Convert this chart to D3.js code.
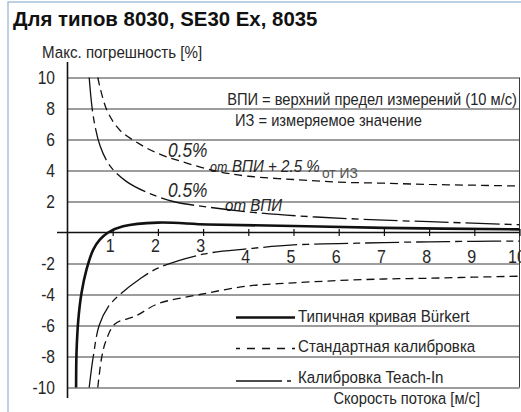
<!DOCTYPE html>
<html><head><meta charset="utf-8">
<script src="https://cdn.jsdelivr.net/npm/d3@7"></script>
<style>html,body{margin:0;padding:0;background:#fff;overflow:hidden;} svg{display:block;}</style>
</head><body><svg id="c" width="521" height="412"></svg>
<script>
// ---- data ----
const title = "Для типов 8030, SE30 Ex, 8035";
const yTitle = "Макс. погрешность [%]";
const xTitle = "Скорость потока [м/с]";
const xTicks = [1, 2, 3, 4, 5, 6, 7, 8, 9, 10];
const yTicks = [10, 8, 6, 4, 2, -2, -4, -6, -8, -10];
const noteLines = ["ВПИ = верхний предел измерений (10 м/с)", "ИЗ = измеряемое значение"];
const legendNames = ["Типичная кривая Bürkert", "Стандартная калибровка", "Калибровка Teach-In"];

// typical Bürkert curve
const typicalV = [0.19, 0.2, 0.24, 0.31, 0.42, 0.57, 0.72, 0.9, 1.23, 2, 3.1, 5, 7, 10];
const typicalE = [-10, -7.7, -5.6, -3.9, -2.4, -1.1, -0.45, 0, 0.4, 0.64, 0.52, 0.42, 0.3, 0.2];
// standard calibration (upper / lower)
const stdUpV = [0.67, 0.87, 1.16, 1.6, 2, 2.5, 3.3, 4, 5, 6, 7, 8, 9, 10];
const stdUpE = [10, 7.9, 6.6, 5.7, 5.1, 4.6, 3.95, 3.63, 3.42, 3.25, 3.18, 3.1, 3.05, 3.0];
const stdLoV = [0.67, 0.76, 0.85, 1.05, 1.5, 2, 2.93, 4, 5, 6, 7, 8, 9, 10];
const stdLoE = [-10, -8, -7, -5.9, -5.4, -4.6, -4, -3.45, -3.25, -3.1, -3.0, -2.95, -2.88, -2.82];
// teach-in calibration (upper / lower)
const tiUpV = [0.48, 0.57, 0.72, 0.94, 1.3, 1.75, 2.34, 3.08, 4.2, 5.5, 7, 8.5, 10];
const tiUpE = [10, 7.5, 5.6, 4.3, 3.3, 2.6, 2.0, 1.65, 1.27, 1.0, 0.8, 0.65, 0.5];
const tiLoV = [0.48, 0.57, 0.7, 0.9, 1.16, 1.6, 2, 3, 4, 5, 6, 7, 8, 9, 10];
const tiLoE = [-10, -8, -6, -4.8, -4, -3, -2.3, -1.4, -1.05, -0.8, -0.72, -0.65, -0.6, -0.57, -0.55];

// ---- drawing ----
const FONT = "'Liberation Sans',Arial,sans-serif";
const TXT = "#262626";
const svg = d3.select("#c");

// frame
svg.append("rect").attr("x", 8).attr("y", 2).attr("width", 520).attr("height", 420)
  .attr("fill", "#fff").attr("stroke", "#a9c2dc").attr("stroke-width", 1.5);

// horizontal condensing factor, measured so the note line fills its width
const probe = svg.append("text").attr("font-family", FONT).attr("font-size", 16.5).text(noteLines[0]);
let SX = 290 / probe.node().getComputedTextLength();
SX = Math.max(0.72, Math.min(1, SX));
probe.remove();

function ntext(parent, px, py, s, size, o = {}) {
  return parent.append("text")
    .attr("transform", `translate(${px},${py}) scale(${SX},1)`)
    .attr("text-anchor", o.anchor || "start")
    .attr("font-family", FONT).attr("font-size", size)
    .attr("font-style", o.italic ? "italic" : "normal")
    .attr("fill", o.fill || TXT).text(s);
}

const x = d3.scaleLinear().domain([0, 10]).range([67.5, 519.5]);
const y = d3.scaleLinear().domain([-10, 10]).range([387.5, 77.5]);

svg.append("text").attr("x", 13).attr("y", 26).text(title)
  .attr("font-family", FONT).attr("font-weight", "bold")
  .attr("font-size", 20.4).attr("fill", "#111");

ntext(svg, 42, 57.5, yTitle, 17);

// gridlines
const grid = svg.append("g").attr("transform", `translate(${x(0)},0)`)
  .call(d3.axisRight(y).tickValues(yTicks).tickSize(x(10) - x(0)).tickFormat(""));
grid.select(".domain").remove();
grid.selectAll(".tick line").attr("stroke", "#3a3a3a").attr("stroke-width", 1);

// right border
svg.append("line").attr("x1", x(10)).attr("x2", x(10)).attr("y1", y(10)).attr("y2", y(-10))
  .attr("stroke", "#3a3a3a").attr("stroke-width", 1);

// y labels
yTicks.forEach(t => ntext(svg, 55, y(t) + 6, String(t), 17.5, { anchor: "end" }));

// y axis line
svg.append("line").attr("x1", x(0)).attr("x2", x(0)).attr("y1", 62).attr("y2", 398)
  .attr("stroke", "#111").attr("stroke-width", 1.6);
// zero line
svg.append("line").attr("x1", 57).attr("x2", x(10)).attr("y1", y(0)).attr("y2", y(0))
  .attr("stroke", "#111").attr("stroke-width", 1.6);

// x ticks crossing the axis
const xa = svg.append("g").attr("transform", `translate(0,${y(0) - 3.5})`)
  .call(d3.axisBottom(x).tickValues(xTicks).tickSize(7).tickFormat(""));
xa.select(".domain").remove();
xa.selectAll(".tick line").attr("stroke", "#111").attr("stroke-width", 1.2);
// x labels
xTicks.forEach(t => ntext(svg, x(t) - 2.5, t <= 3 ? 252 : 263, String(t), 18, { anchor: "middle" }));

ntext(svg, 480, 404, xTitle, 16.5, { anchor: "end" });

// notes
ntext(svg, 517, 105, noteLines[0], 16.5, { anchor: "end" });
ntext(svg, 235, 126, noteLines[1], 16.5);

// annotations
ntext(svg, 168, 157, "0.5%", 19.5, { italic: true });
ntext(svg, 210, 172, "от", 14, { italic: true });
ntext(svg, 232, 172, "ВПИ + 2.5 %", 17, { italic: true });
ntext(svg, 322, 178, "от ИЗ", 15.5, { fill: "#555" });
ntext(svg, 168, 197, "0.5%", 19.5, { italic: true });
ntext(svg, 225, 211, "от ВПИ", 17, { italic: true });

// curves
const line = d3.line().x(d => x(d[0])).y(d => y(d[1])).curve(d3.curveCatmullRom.alpha(0.5));
const zip = (a, b) => a.map((v, i) => [v, b[i]]);
const styles = [
  { w: 2.6, dash: null },
  { w: 1.3, dash: "8,5" },
  { w: 1.3, dash: "34,5,7,5" }
];
const series = [
  { s: 0, d: zip(typicalV, typicalE) },
  { s: 1, d: zip(stdUpV, stdUpE) },
  { s: 1, d: zip(stdLoV, stdLoE) },
  { s: 2, d: zip(tiUpV, tiUpE) },
  { s: 2, d: zip(tiLoV, tiLoE) }
];
svg.append("g").selectAll("path").data(series).join("path")
  .attr("d", d => line(d.d)).attr("fill", "none").attr("stroke", "#111")
  .attr("stroke-width", d => styles[d.s].w)
  .attr("stroke-dasharray", d => styles[d.s].dash);

// legend
const legY = [317.5, 348.5, 381];
const lg = svg.append("g").selectAll("g").data(legendNames).join("g")
  .attr("transform", (d, i) => `translate(0,${legY[i]})`);
lg.append("rect").attr("x", 234).attr("y", -7).attr("width", 62).attr("height", 12).attr("fill", "#fff");
lg.append("line").attr("x1", 236).attr("x2", 295).attr("y1", 0).attr("y2", 0)
  .attr("stroke", "#111")
  .attr("stroke-width", (d, i) => i === 0 ? 2.6 : 1.3)
  .attr("stroke-dasharray", (d, i) => i === 0 ? null : (i === 1 ? "4,7,8,7,8,7,8,7,8" : "46,5,4,10"));
lg.each(function (d, i) {
  ntext(d3.select(this), 298, [4.5, 3.8, 1.5][i], d, 17);
});
</script></body></html>
